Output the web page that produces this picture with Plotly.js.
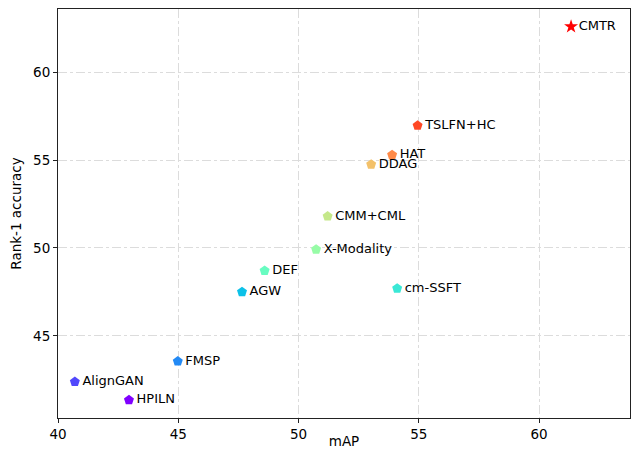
<!DOCTYPE html>
<html>
<head>
<meta charset="utf-8">
<script src="https://cdn.plot.ly/plotly-3.0.1.min.js"></script>
<style>html,body{margin:0;padding:0;background:#fff;}#chart{width:631px;height:449px;}</style>
</head>
<body>
<div id="chart"></div>
<script>
const methods = ["HPILN", "AlignGAN", "FMSP", "AGW", "cm-SSFT", "DEF", "X-Modality", "CMM+CML", "DDAG", "HAT", "TSLFN+HC", "CMTR"];
const mAP = [42.95, 40.7, 44.98, 47.65, 54.1, 48.59, 50.73, 51.21, 53.02, 53.89, 54.95, 61.33];
const rank1 = [41.36, 42.4, 43.56, 47.50, 47.7, 48.71, 49.92, 51.8, 54.75, 55.29, 56.96, 62.58];
const colors = ["#8000ff", "#5148fc", "#238af5", "#0cc1e8", "#3ae8d6", "#68fcc1", "#97fca7", "#c5e88a", "#f3c16a", "#ff8a48", "#ff4824", "#ff0000"];
const symbols = methods.map(m => m === "CMTR" ? "star" : "pentagon");

const font = "DejaVu Sans, sans-serif";
const trace = {
  x: mAP, y: rank1, text: methods,
  mode: "markers+text", type: "scatter",
  textposition: "middle right",
  textfont: {family: font, size: 13, color: "#000"},
  marker: {color: colors, symbol: symbols, size: 10.5, line: {width: 0}},
  cliponaxis: false,
  hoverinfo: "none"
};
const axisCommon = {
  showline: true, linecolor: "#222", linewidth: 1, mirror: true,
  ticks: "outside", ticklen: 4, tickcolor: "#222",
  showgrid: true, gridcolor: "#dcdcdc", griddash: "dashdot", gridwidth: 1,
  zeroline: false,
  tickfont: {family: font, size: 13.5, color: "#000"}
};
const layout = {
  width: 631, height: 449,
  margin: {l: 58, r: 1, t: 9, b: 31},
  paper_bgcolor: "#fff", plot_bgcolor: "#fff",
  showlegend: false,
  xaxis: Object.assign({}, axisCommon, {
    range: [40, 63.78], tickvals: [40, 45, 50, 55, 60],
    title: {text: "mAP", font: {family: font, size: 13.5, color: "#000"}, standoff: 2}
  }),
  yaxis: Object.assign({}, axisCommon, {
    range: [40.34, 63.58], tickvals: [45, 50, 55, 60],
    title: {text: "Rank-1 accuracy", font: {family: font, size: 13.5, color: "#000"}, standoff: 8}
  })
};
Plotly.newPlot("chart", [trace], layout, {staticPlot: true});
</script>
</body>
</html>
